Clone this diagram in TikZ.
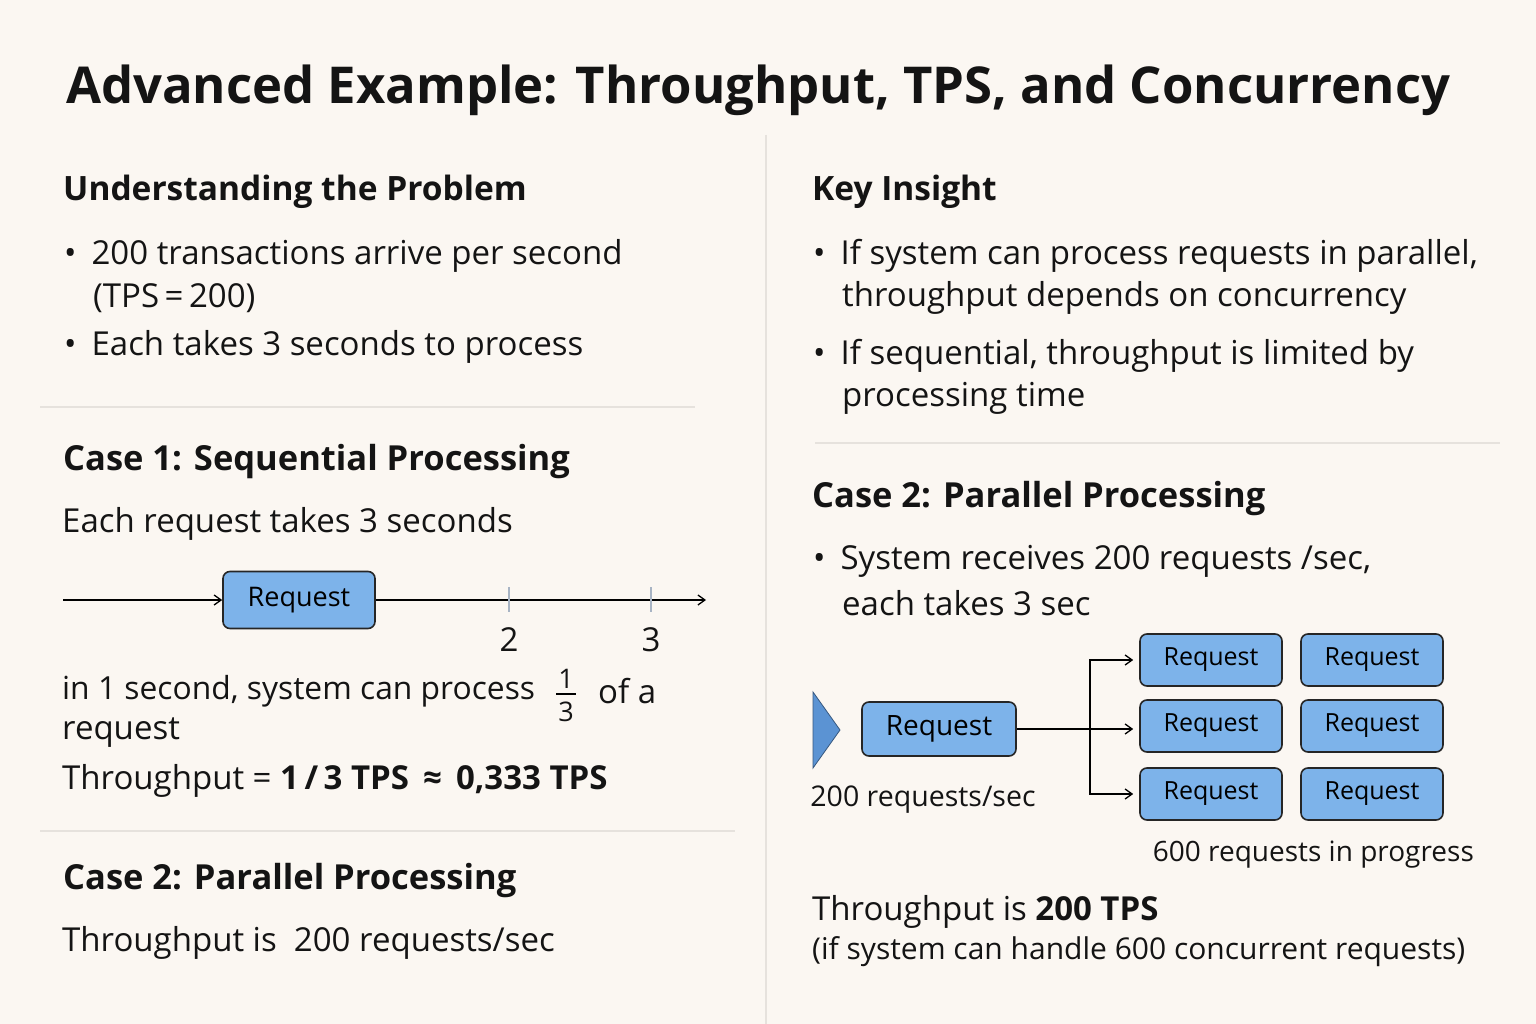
\documentclass[tikz,border=0pt]{standalone}
\usepackage{fontspec}
\setmainfont{Open Sans}
\usetikzlibrary{arrows.meta}
\definecolor{bg}{HTML}{FBF7F2}
\definecolor{boxblue}{HTML}{7DB3EA}
\definecolor{divider}{HTML}{E6E2DD}
\definecolor{tickc}{HTML}{A8B4C4}
\definecolor{tri}{HTML}{5B93D3}
\begin{document}
\begin{tikzpicture}[x=1pt,y=-1pt,
  txt/.style={inner sep=0pt,anchor=west,text=black!92},
  title/.style={txt,font=\fontsize{50.8}{56}\selectfont\bfseries},
  head/.style={txt,font=\fontsize{33.5}{38}\selectfont\bfseries},
  headl/.style={txt,font=\fontsize{34.5}{38}\selectfont\bfseries},
  body/.style={txt,font=\fontsize{33}{38}\selectfont},
  small/.style={txt,font=\fontsize{28.5}{33}\selectfont},
  req/.style={draw=black!85,line width=1.6pt,fill=boxblue,rounded corners=7pt,minimum width=152,minimum height=57,inner sep=0pt,font=\fontsize{27}{30}\selectfont},
  reqs/.style={req,minimum width=142,minimum height=52,font=\fontsize{25}{28}\selectfont},
  conn/.style={line width=1.3pt,black},
  arr/.style={conn,-{Straight Barb[length=7pt,width=10pt]}},
  sep/.style={divider,line width=1.2pt}
]
\fill[bg] (0,0) rectangle (1536,1024);
\useasboundingbox (0,0) rectangle (1536,1024);

% dividers
\draw[sep] (766,135) -- (766,1024);
\draw[sep] (40,407) -- (695,407);
\draw[sep] (40,831) -- (735,831);
\draw[sep] (815,443) -- (1500,443);

% title
\node[title] (t) at (66,90) {Advanced Example: Throughput, TPS, and Concurrency};

% left column
\node[head] (h1) at (63,192) {Understanding the Problem};
\node[body] (b1) at (64,256) {\textbullet\hspace{15pt}200 transactions arrive per second};
\node[body] (b1b) at (93,298) {(TPS\,=\,200)};
\node[body] (b2) at (64,347) {\textbullet\hspace{15pt}Each takes 3 seconds to process};

\node[headl] (h2) at (63,462) {Case 1: Sequential Processing};
\node[body] (c1) at (62,524) {Each request takes 3 seconds};

\coordinate (tl0) at (63,600);
\node[req] (r0) at (299,600) {Request};
\coordinate (tl1) at (706,600);
\draw[arr] (tl0) -- (r0.west);
\draw[arr] (r0.east) -- (tl1);
\draw[tickc,line width=1.3pt] (509,587) -- (509,612);
\draw[tickc,line width=1.3pt] (651,587) -- (651,612);
\node[body,anchor=center] (n2) at (509,640) {2};
\node[body,anchor=center] (n3) at (651,640) {3};

\node[body,font=\fontsize{31.8}{36}\selectfont] (p1) at (62,691) {in 1 second, system can process};
\node[txt,anchor=center,font=\fontsize{27}{30}\selectfont] (f1) at (566,679) {1};
\node[txt,anchor=center,font=\fontsize{27}{30}\selectfont] (f3) at (566,712) {3};
\draw[line width=1.2pt] (556,694) -- (576,694);
\node[body] (p2) at (598,691) {of a};
\node[body] (p3) at (62,733) {request};
\node[body] (p4) at (62,781) {Throughput = \textbf{1\,/\,3 TPS \,≈\, 0,333 TPS}};

\node[headl] (h3) at (63,881) {Case 2: Parallel Processing};
\node[body] (c2) at (62,943) {Throughput is \ 200 requests/sec};

% right column
\node[head] (h4) at (812,192) {Key Insight};
\node[body] (k1) at (813,256) {\textbullet\hspace{15pt}If system can process requests in parallel,};
\node[body] (k1b) at (842,298) {throughput depends on concurrency};
\node[body] (k2) at (813,356) {\textbullet\hspace{15pt}If sequential, throughput is limited by};
\node[body] (k2b) at (842,398) {processing time};

\node[headl] (h5) at (812,499) {Case 2: Parallel Processing};
\node[body] (s1) at (813,561) {\textbullet\hspace{15pt}System receives 200 requests /sec,};
\node[body] (s1b) at (842,603) {each takes 3 sec};

\fill[tri,draw=tri!60!black,line width=0.8pt] (813,692) -- (840,730) -- (813,768) -- cycle;
\node[req,minimum width=154,minimum height=54,font=\fontsize{28}{30}\selectfont] (rin) at (939,729) {Request};
\node[small,anchor=center] (rate) at (923,800) {200 requests/sec};

\node[reqs] (a1) at (1211,660) {Request};
\node[reqs] (a2) at (1372,660) {Request};
\node[reqs] (b1r) at (1211,726) {Request};
\node[reqs] (b2r) at (1372,726) {Request};
\node[reqs] (c1r) at (1211,794) {Request};
\node[reqs] (c2r) at (1372,794) {Request};

\coordinate (br) at (1090,729);
\draw[conn] (rin.east) -- (br);
\draw[arr,shorten >=6pt] (br) -- (b1r.west |- br);
\draw[arr,shorten >=6pt] (br) |- (a1.west);
\draw[arr,shorten >=6pt] (br) |- (c1r.west);

\node[small,anchor=east,font=\fontsize{28}{32}\selectfont] (prog) at (1474,855) {600 requests in progress};

\node[body] (tp) at (812,912) {Throughput is \textbf{200 TPS}};
\node[txt,font=\fontsize{30}{34}\selectfont] (tp2) at (812,952) {(if system can handle 600 concurrent requests)};
\end{tikzpicture}
\end{document}
